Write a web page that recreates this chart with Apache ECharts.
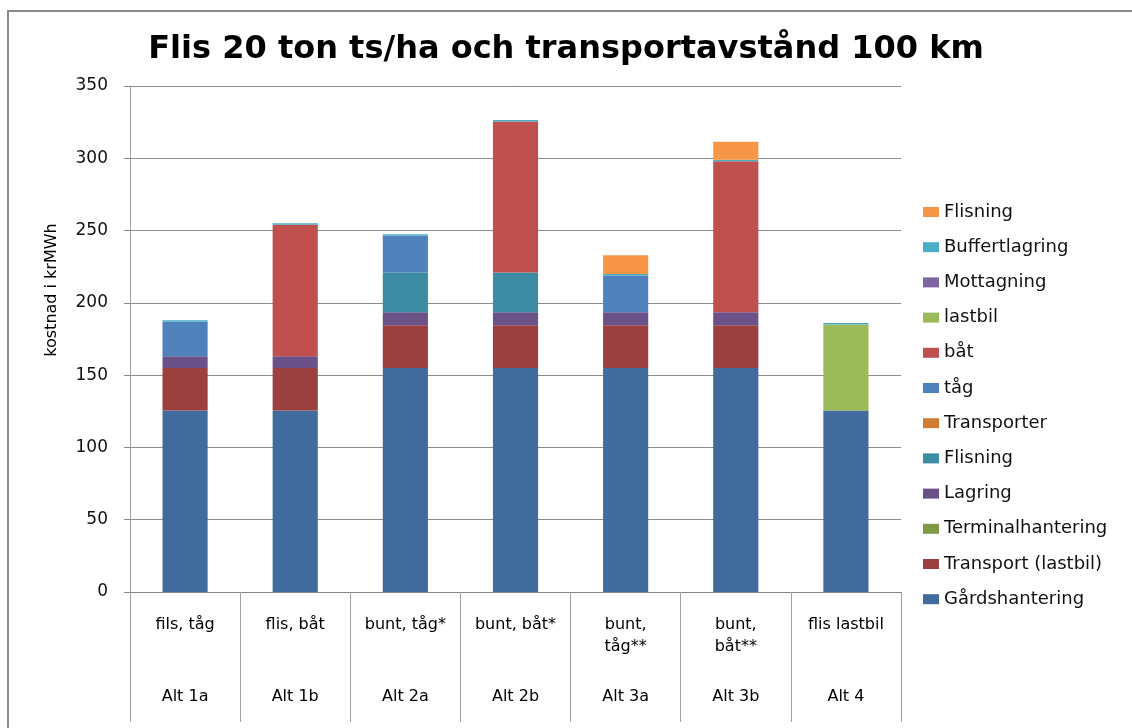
<!DOCTYPE html>
<html>
<head>
<meta charset="utf-8">
<script src="https://cdn.jsdelivr.net/npm/echarts@6/dist/echarts.min.js"></script>
<style>
html,body{margin:0;padding:0;background:#fff;}
#main{width:1132px;height:728px;}
</style>
</head>
<body>
<div id="main"></div>
<script>
var kategorier = ["fils, tåg", "flis, båt", "bunt, tåg*", "bunt, båt*", "bunt,\ntåg**", "bunt,\nbåt**", "flis lastbil"];
var alternativ = ["Alt 1a", "Alt 1b", "Alt 2a", "Alt 2b", "Alt 3a", "Alt 3b", "Alt 4"];
var yTicks = [0, 50, 100, 150, 200, 250, 300, 350];

var gardshantering     = [125.5, 125.5, 155, 155, 155, 155, 125.5];
var transportLastbil   = [29.5, 29.5, 29.5, 29.5, 29.5, 29.5, 0];
var terminalhantering  = [0, 0, 0, 0, 0, 0, 0];
var lagring            = [8, 8, 9, 9, 9, 9, 0];
var flisningTerminal   = [0, 0, 27.5, 27.5, 0, 0, 0];
var transporter        = [0, 0, 0, 0, 0, 0, 0];
var tag                = [24, 0, 25.5, 0, 25.5, 0, 0];
var bat                = [0, 91, 0, 104.5, 0, 104.5, 0];
var lastbil            = [0, 0, 0, 0, 0, 0, 59.5];
var mottagning         = [0, 0, 0, 0, 0, 0, 0];
var buffertlagring     = [1, 1, 1, 1, 1, 1, 1];
var flisning           = [0, 0, 0, 0, 13, 12.5, 0];

var serier = [
    ["Gårdshantering", gardshantering, "#416B9C"],
    ["Transport (lastbil)", transportLastbil, "#9B403E"],
    ["Terminalhantering", terminalhantering, "#7E9A45"],
    ["Lagring", lagring, "#6A5187"],
    ["Flisning (terminal)", flisningTerminal, "#3C8CA3"],
    ["Transporter", transporter, "#D27D36"],
    ["tåg", tag, "#4F81BD"],
    ["båt", bat, "#C0504D"],
    ["lastbil", lastbil, "#9BBB59"],
    ["Mottagning", mottagning, "#8064A2"],
    ["Buffertlagring", buffertlagring, "#4BACC6"],
    ["Flisning", flisning, "#F79646"]
];

var myChart = echarts.init(document.getElementById('main'));

myChart.setOption({
    animation: false,
    title: {
        text: 'Flis 20 ton ts/ha och transportavstånd 100 km',
        left: 'center',
        top: 29,
        textStyle: {fontFamily: 'DejaVu Sans', fontWeight: 'bold', fontSize: 32, color: '#000'}
    },
    graphic: [{
        type: 'rect',
        shape: {x: 8, y: 11, width: 1300, height: 900},
        style: {fill: 'none', stroke: '#8a8a8a', lineWidth: 2}
    }, {
        type: 'text',
        x: 52, y: 290,
        rotation: Math.PI / 2,
        style: {text: 'kostnad i krMWh', font: '16px "DejaVu Sans"', fill: '#000', align: 'center', verticalAlign: 'middle'}
    }],
    legend: {
        orient: 'vertical',
        left: 918,
        top: 197,
        itemWidth: 16,
        itemHeight: 10,
        itemGap: 15.2,
        icon: 'rect',
        data: serier.map(s => s[0]).reverse(),
        formatter: function (n) { return n.replace(' (terminal)', ''); },
        textStyle: {fontFamily: 'DejaVu Sans', fontSize: 18, lineHeight: 20, color: '#111'}
    },
    grid: {left: 130, right: 231, top: 86, bottom: 136},
    xAxis: [{
        type: 'category',
        data: kategorier,
        position: 'bottom',
        axisLine: {show: true, lineStyle: {color: '#868686'}},
        axisTick: {show: true, interval: 0, alignWithLabel: false, length: 130, lineStyle: {color: '#a0a0a0'}},
        axisLabel: {interval: 0, margin: 22, fontFamily: 'DejaVu Sans', fontSize: 16, lineHeight: 22, color: '#000'}
    }, {
        type: 'category',
        data: alternativ,
        position: 'bottom',
        axisLine: {show: false},
        axisTick: {show: false},
        axisLabel: {interval: 0, margin: 97, fontFamily: 'DejaVu Sans', fontSize: 16, color: '#000'}
    }],
    yAxis: {
        type: 'value',
        min: yTicks[0],
        max: yTicks[yTicks.length - 1],
        interval: 50,
        axisLine: {show: true, lineStyle: {color: '#a0a0a0'}},
        axisTick: {show: true, length: 6, lineStyle: {color: '#868686'}},
        axisLabel: {margin: 22, fontFamily: 'DejaVu Sans', fontSize: 17, color: '#111'},
        splitLine: {lineStyle: {color: '#8c8c8c'}}
    },
    series: serier.map(s => ({
        name: s[0],
        type: 'bar',
        stack: 'kostnad',
        barWidth: '41%',
        itemStyle: {color: s[2]},
        data: s[1]
    }))
});
</script>
</body>
</html>
